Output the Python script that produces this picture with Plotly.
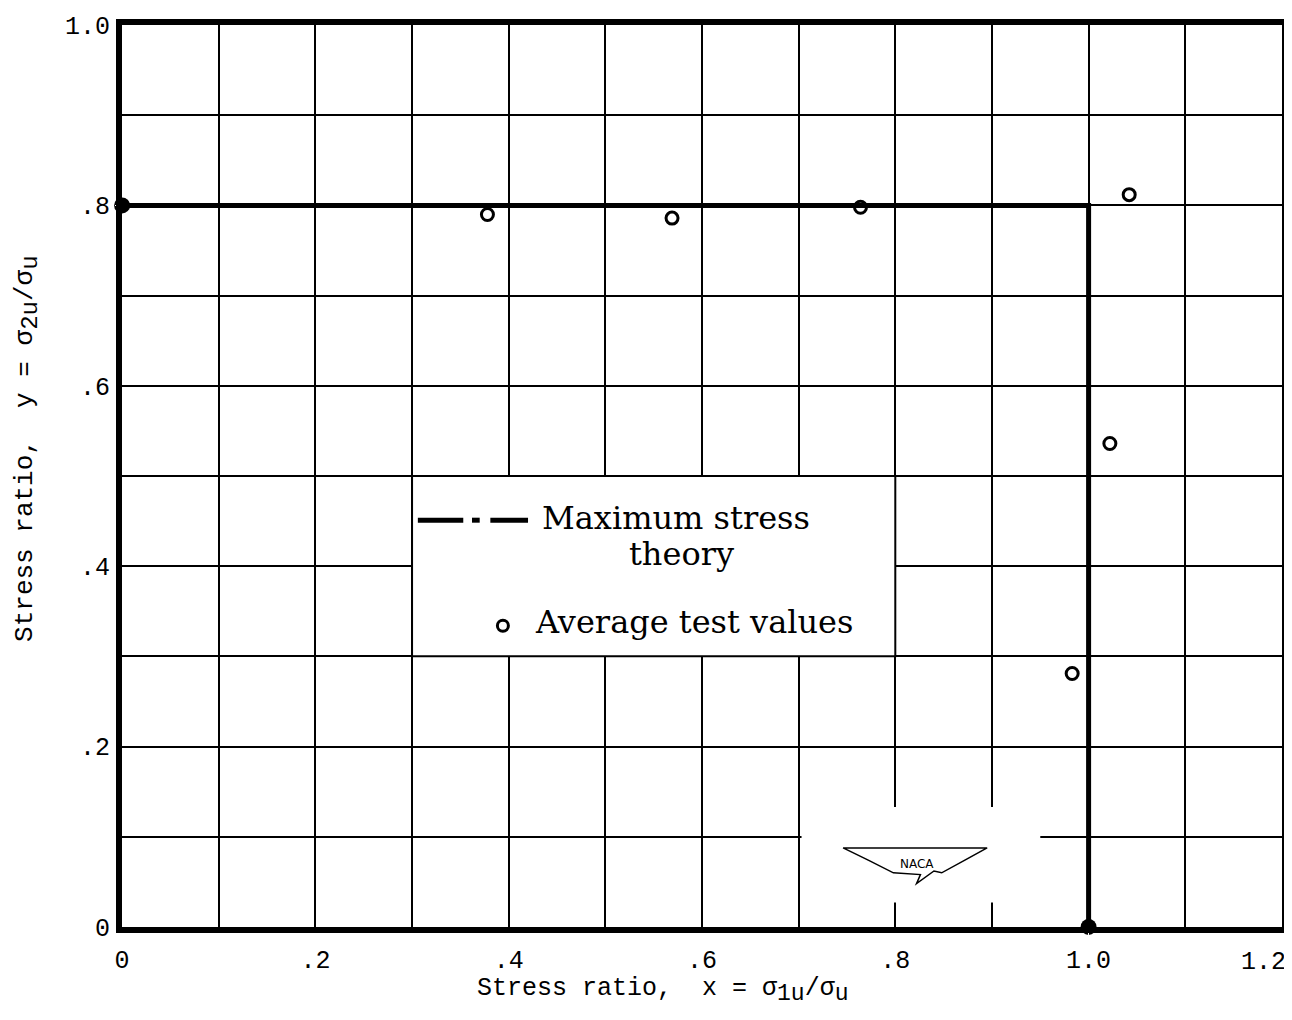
import plotly.graph_objects as go

# Theory line (maximum stress theory)
theory_x = [0.0, 1.0, 1.0]
theory_y = [0.8, 0.8, 0.0]
# End points marked with filled dots
end_x = [0.0, 1.0]
end_y = [0.8, 0.0]
# Average test values
test_x = [0.378, 0.569, 0.764, 1.042, 1.022, 0.983]
test_y = [0.790, 0.786, 0.798, 0.812, 0.536, 0.281]

x_tickvals = [0, 0.2, 0.4, 0.6, 0.8, 1.0]
x_ticktext = ["0", ".2", ".4", ".6", ".8", "1.0"]
x_last_tick = 1.2
x_last_text = "1.2"
y_tickvals = [0, 0.2, 0.4, 0.6, 0.8, 1.0]
y_ticktext = ["0", ".2", ".4", ".6", ".8", "1.0"]

MONO = "Liberation Mono, Courier New, monospace"
SERIF = "DejaVu Serif, serif"

fig = go.Figure()

fig.add_trace(go.Scatter(x=theory_x, y=theory_y, mode="lines",
                         line=dict(color="black", width=5),
                         showlegend=False, hoverinfo="skip", cliponaxis=False))
fig.add_trace(go.Scatter(x=end_x, y=end_y, mode="markers",
                         marker=dict(color="black", size=16),
                         showlegend=False, cliponaxis=False))
fig.add_trace(go.Scatter(x=test_x, y=test_y, mode="markers",
                         marker=dict(symbol="circle-open", color="black", size=12,
                                     line=dict(width=3, color="black")),
                         showlegend=False, cliponaxis=False))

# Legend sample marker
fig.add_trace(go.Scatter(x=[0.394], y=[0.334], mode="markers",
                         marker=dict(symbol="circle-open", color="black", size=11,
                                     line=dict(width=3, color="black")),
                         showlegend=False, hoverinfo="skip"))

shapes = [
    # legend box (covers interior gridlines)
    dict(type="rect", xref="x", yref="y", x0=0.3, x1=0.8, y0=0.3, y1=0.5,
         fillcolor="white", line=dict(color="black", width=2), layer="between"),
    # NACA logo blank area
    dict(type="rect", xref="x", yref="y", x0=0.703, x1=0.950, y0=0.027, y1=0.133,
         fillcolor="white", line=dict(width=0), layer="between"),
    # legend sample line: long dash - short dash - long dash
    dict(type="line", xref="x", yref="y", x0=0.306, x1=0.353, y0=0.451, y1=0.451,
         line=dict(color="black", width=5)),
    dict(type="line", xref="x", yref="y", x0=0.362, x1=0.370, y0=0.451, y1=0.451,
         line=dict(color="black", width=5)),
    dict(type="line", xref="x", yref="y", x0=0.381, x1=0.420, y0=0.451, y1=0.451,
         line=dict(color="black", width=5)),
    # NACA wing logo outline
    dict(type="path", xref="x", yref="y",
         path=("M 0.746,0.0876 L 0.895,0.0876 L 0.872,0.074 L 0.848,0.060 "
               "L 0.840,0.062 L 0.822,0.048 L 0.826,0.058 L 0.798,0.060 L 0.772,0.074 Z"),
         line=dict(color="black", width=1.5), fillcolor="rgba(0,0,0,0)"),
]

SUB = "<span style='font-size:23px'>"
xtitle = "Stress ratio,  x = σ<sub>" + SUB + "1u</span></sub>/σ<sub>" + SUB + "u</span></sub>"
SUBY = "<span style='font-size:24px'>"
ytitle = "Stress ratio,  y = σ<sub>" + SUBY + "2u</span></sub>/σ<sub>" + SUBY + "u</span></sub>"

annotations = [
    dict(x=0.432, y=0.453, xref="x", yref="y", text="Maximum stress", showarrow=False,
         xanchor="left", yanchor="middle", font=dict(family=SERIF, size=32, color="black")),
    dict(x=0.579, y=0.413, xref="x", yref="y", text="theory", showarrow=False,
         xanchor="center", yanchor="middle", font=dict(family=SERIF, size=32, color="black")),
    dict(x=0.425, y=0.338, xref="x", yref="y", text="Average test values", showarrow=False,
         xanchor="left", yanchor="middle", font=dict(family=SERIF, size=32, color="black")),
    dict(x=0.822, y=0.070, xref="x", yref="y", text="NACA", showarrow=False,
         xanchor="center", yanchor="middle", font=dict(family="DejaVu Sans", size=12, color="black")),
    # last x tick label, kept inside the page
    dict(x=x_last_tick, y=-0.039, xref="x", yref="paper", text=x_last_text, showarrow=False,
         xanchor="right", yanchor="middle", xshift=6,
         font=dict(family=MONO, size=25, color="black")),
    # axis titles
    dict(x=0.304, y=-0.070, xref="paper", yref="paper", text=xtitle, showarrow=False,
         xanchor="left", yanchor="middle", font=dict(family=MONO, size=25, color="black")),
    dict(x=-0.082, y=0.531, xref="paper", yref="paper", text=ytitle, showarrow=False,
         textangle=-90, xanchor="center", yanchor="middle",
         font=dict(family=MONO, size=26, color="black")),
]

fig.update_layout(
    width=1284, height=1012,
    margin=dict(l=114, r=10, t=17, b=93, autoexpand=False),
    paper_bgcolor="white", plot_bgcolor="white",
    shapes=shapes, annotations=annotations,
    showlegend=False,
    xaxis=dict(range=[-0.0001, 1.2001], automargin=False,
               showgrid=True, gridcolor="black", gridwidth=2,
               showline=True, linecolor="black", linewidth=6, mirror=True,
               zeroline=False,
               tickmode="array", tickvals=x_tickvals, ticktext=x_ticktext,
               ticks="outside", ticklen=5, tickcolor="white",
               tickfont=dict(family=MONO, size=25, color="black")),
    yaxis=dict(range=[-0.0001, 1.0001], automargin=False,
               showgrid=True, gridcolor="black", gridwidth=2,
               showline=True, linecolor="black", linewidth=6, mirror=True,
               zeroline=False, ticklabeloverflow="allow",
               tickmode="array", tickvals=y_tickvals, ticktext=y_ticktext,
               ticks="outside", ticklen=1, tickcolor="white",
               tickfont=dict(family=MONO, size=25, color="black")),
)

# gridlines every 0.1 (tick labels only every 0.2)
fig.update_xaxes(minor=dict(tickvals=[0.1, 0.3, 0.5, 0.7, 0.9, 1.1], showgrid=True,
                            gridcolor="black", gridwidth=2))
fig.update_yaxes(minor=dict(tickvals=[0.1, 0.3, 0.5, 0.7, 0.9], showgrid=True,
                            gridcolor="black", gridwidth=2))

fig.write_html("out.html")
